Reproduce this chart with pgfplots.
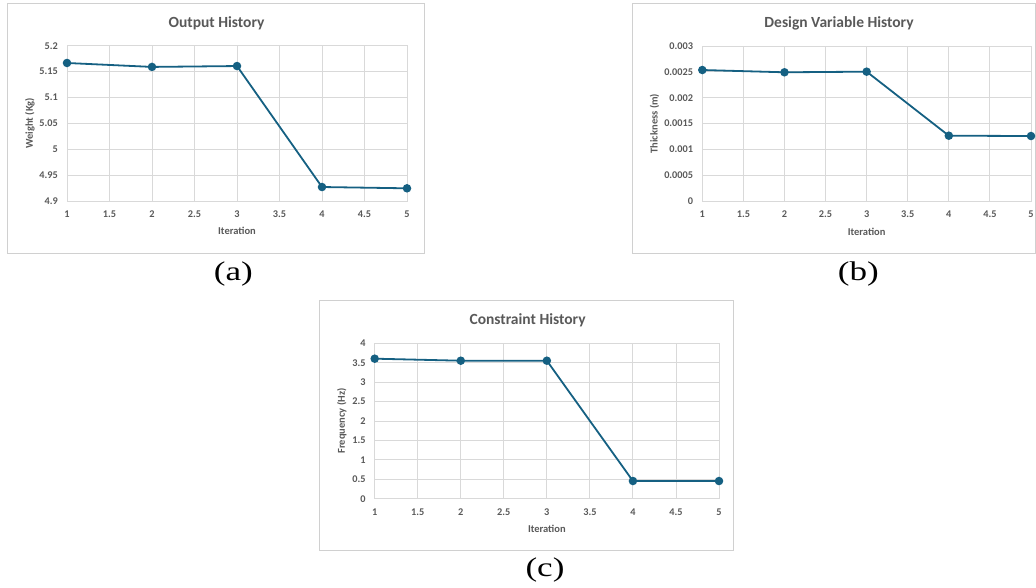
\documentclass[border=0pt]{standalone}
\usepackage{pgfplots}
\pgfplotsset{compat=1.18}
\usepackage{fontspec}
\setmainfont{Carlito}
\newfontfamily\seriffont{Liberation Serif}
\definecolor{textgray}{HTML}{595959}
\definecolor{gridgray}{HTML}{D9D9D9}
\definecolor{boxgray}{HTML}{D0D0D0}
\definecolor{linecol}{HTML}{156082}
\pgfplotsset{
  excel/.style={
    scale only axis,
    xmin=1, xmax=5,
    xtick={1,1.5,2,2.5,3,3.5,4,4.5,5},
    xticklabels={1,1.5,2,2.5,3,3.5,4,4.5,5},
    grid=major,
    major grid style={draw=gridgray, line width=0.9pt},
    axis line style={draw=gridgray, line width=0.9pt},
    major tick length=0pt,
    /pgf/number format/assume math mode=true,
    tick label style={font=\fontsize{10.3}{12}\selectfont\bfseries, text=textgray},
    yticklabel style={anchor=east, inner sep=0pt, xshift=-9pt},
    xticklabel style={anchor=north, inner sep=0pt, yshift=-9.5pt},
    title style={font=\fontsize{15.5}{18}\selectfont\bfseries, text=textgray, anchor=center},
    label style={font=\fontsize{10.5}{12}\selectfont\bfseries, text=textgray},
    xlabel=Iteration,
    clip=false,
  },
  hist/.style={color=linecol, line width=1.8pt, mark=*, mark size=3.3pt,
    mark options={fill=linecol, draw=linecol, solid}},
}
\begin{document}
\begin{tikzpicture}
\useasboundingbox (0pt,0pt) rectangle (1036pt,588pt);
% chart frames
\draw[boxgray, line width=0.9pt] (7.5pt,584.5pt) rectangle (424pt,335pt);
\draw[boxgray, line width=0.9pt] (632pt,584.5pt) rectangle (1035.5pt,335pt);
\draw[boxgray, line width=0.9pt] (319.5pt,288pt) rectangle (733pt,38pt);

% (a) Output History
\begin{axis}[excel,
  at={(67pt,387pt)}, anchor=south west,
  width=340pt, height=155.3pt,
  ymin=4.9, ymax=5.2,
  ytick={4.9,4.95,5,5.05,5.1,5.15,5.2},
  yticklabels={4.9,4.95,5,5.05,5.1,5.15,5.2},
  title={Output History},
  title style={at={(axis description cs:0.4397,1.105)}},
  ylabel={Weight (Kg)},
  xlabel style={at={(axis description cs:0.5,-0.193)}, anchor=center},
  ylabel style={at={(axis description cs:-0.109,0.5)}, anchor=center},
]
\addplot[hist] coordinates {(1,5.1666) (2,5.159) (3,5.1607) (4,4.927) (5,4.9245)};
\end{axis}

% (b) Design Variable History
\begin{axis}[excel,
  at={(702.3pt,386.7pt)}, anchor=south west,
  width=328.7pt, height=155.3pt,
  ymin=0, ymax=0.003,
  ytick={0,0.0005,0.001,0.0015,0.002,0.0025,0.003},
  yticklabels={0,0.0005,0.001,0.0015,0.002,0.0025,0.003},
  scaled y ticks=false,
  title={Design Variable History},
  title style={at={(axis description cs:0.416,1.11)}},
  ylabel={Thickness (m)},
  xlabel style={at={(axis description cs:0.5,-0.198)}, anchor=center},
  ylabel style={at={(axis description cs:-0.145,0.5)}, anchor=center},
]
\addplot[hist] coordinates {(1,0.002536) (2,0.002492) (3,0.002504) (4,0.001267) (5,0.001261)};
\end{axis}

% (c) Constraint History
\begin{axis}[excel,
  at={(374.7pt,89.3pt)}, anchor=south west,
  width=344.3pt, height=155.4pt,
  ymin=0, ymax=4,
  ytick={0,0.5,1,1.5,2,2.5,3,3.5,4},
  yticklabels={0,0.5,1,1.5,2,2.5,3,3.5,4},
  title={Constraint History},
  title style={at={(axis description cs:0.444,1.11)}},
  ylabel={Frequency (Hz)},
  xlabel style={at={(axis description cs:0.5,-0.195)}, anchor=center},
  ylabel style={at={(axis description cs:-0.0958,0.5)}, anchor=center},
]
\addplot[hist] coordinates {(1,3.604) (2,3.552) (3,3.552) (4,0.455) (5,0.455)};
\end{axis}

% sub-figure labels
\node[inner sep=0pt] at (233.4pt,313.5pt) {\scalebox{1.3}[1]{\seriffont\fontsize{27}{30}\selectfont (a)}};
\node[inner sep=0pt] at (858.3pt,313.5pt) {\scalebox{1.3}[1]{\seriffont\fontsize{27}{30}\selectfont (b)}};
\node[inner sep=0pt] at (545pt,18pt) {\scalebox{1.3}[1]{\seriffont\fontsize{27}{30}\selectfont (c)}};
\end{tikzpicture}
\end{document}
